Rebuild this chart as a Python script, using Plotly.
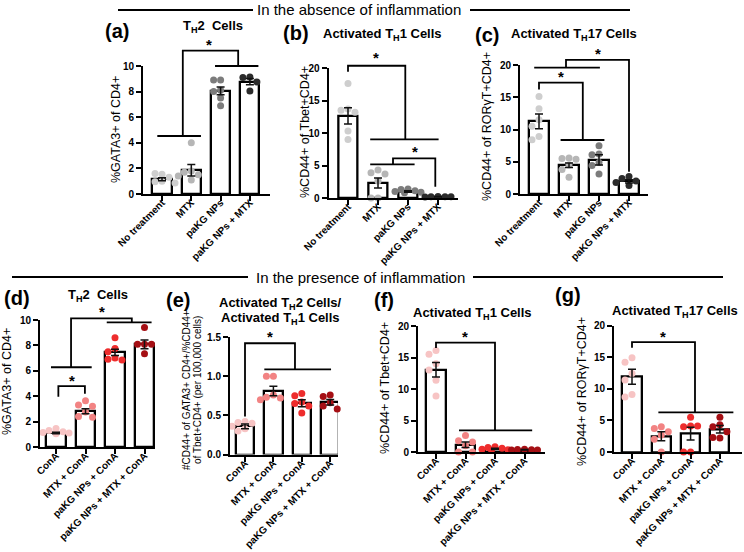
import plotly.graph_objects as go
import numpy as np

W, H = 744, 552
FONT = "Arial, Liberation Sans, sans-serif"

# ---------------- data ----------------
top_categories = ["No treatment", "MTX", "paKG NPs", "paKG NPs + MTX"]
bottom_categories = ["ConA", "MTX + ConA", "paKG NPs + ConA", "paKG NPs + MTX + ConA"]

top_colors = ["#cecece", "#b6b6b6", "#7c7c7c", "#2b2b2b"]
bottom_colors = ["#f7c4c4", "#f28383", "#ee2d2d", "#a50f14"]

# (a) TH2 cells, no inflammation
a_means = [1.15, 1.85, 8.05, 8.78]
a_sems = [0.12, 0.45, 0.30, 0.25]
a_points = [[1.55, 1.6, 1.3, 1.0, 0.95, 0.85],
            [4.0, 1.8, 1.7, 1.5, 1.4, 1.1],
            [8.9, 8.9, 8.1, 8.0, 7.5, 6.9],
            [9.15, 9.1, 8.75, 8.05]]
# (b) Activated TH1 cells, no inflammation
b_means = [12.65, 2.3, 1.0, 0.2]
b_sems = [1.25, 0.77, 0.10, 0.02]
b_points = [[17.6, 13.7, 13.5, 13.2, 10.3, 9.0],
            [4.3, 3.9, 3.7, 2.6, 0.0, 0.0],
            [1.4, 1.3, 1.1, 1.0, 0.9, 0.8],
            [0.25, 0.2, 0.2, 0.15, 0.2]]
# (c) Activated TH17 cells, no inflammation
c_means = [11.25, 4.45, 5.3, 1.95]
c_sems = [1.15, 0.35, 0.8, 0.25]
c_points = [[15.1, 13.2, 11.5, 10.5, 8.9, 8.4],
            [5.6, 5.5, 5.4, 4.5, 3.8, 2.6],
            [7.5, 6.2, 6.1, 4.9, 4.4, 3.1],
            [2.7, 2.4, 2.0, 1.8, 1.3]]
# (d) TH2 cells, inflammation
d_means = [1.1, 2.82, 7.45, 8.08]
d_sems = [0.06, 0.20, 0.25, 0.35]
d_points = [[1.45, 1.3, 1.2, 1.15, 1.1, 1.05],
            [3.65, 3.3, 3.2, 2.75, 2.4, 2.35],
            [8.6, 7.75, 7.5, 7.0, 6.9, 6.85],
            [9.4, 8.1, 8.1, 8.1, 7.35]]
# (e) Activated TH2 / Activated TH1 ratio, inflammation
e_means = [0.36, 0.81, 0.655, 0.667]
e_sems = [0.03, 0.06, 0.045, 0.035]
e_points = [[0.42, 0.41, 0.40, 0.36, 0.33, 0.30],
            [1.0, 1.0, 0.76, 0.73, 0.72, 0.70],
            [0.78, 0.75, 0.67, 0.65, 0.62, 0.53],
            [0.76, 0.74, 0.66, 0.62, 0.58]]
# (f) Activated TH1 cells, inflammation
f_means = [13.07, 1.15, 0.5, 0.35]
f_sems = [1.15, 0.45, 0.09, 0.03]
f_points = [[16.1, 15.5, 14.0, 13.0, 11.4, 8.9],
            [2.6, 1.8, 1.6, 1.0, 0.0, 0.0],
            [0.85, 0.7, 0.6, 0.45, 0.35, 0.3],
            [0.45, 0.4, 0.35, 0.3, 0.3]]
# (g) Activated TH17 cells, inflammation
g_means = [11.9, 2.49, 2.9, 3.6]
g_sems = [1.2, 0.7, 1.0, 0.6]
g_points = [[14.9, 14.2, 12.4, 11.4, 9.1, 8.7],
            [4.0, 3.7, 3.2, 2.7, 2.0, 0.0],
            [5.5, 4.1, 4.0, 4.1, 0.0, 0.0],
            [5.5, 4.3, 4.0, 3.2, 2.2, 2.3]]

# significance brackets (category units, value units)
a_brackets = [[(-0.16, 4.53), (1.33, 4.53)],
              [(1.81, 10.0), (3.29, 10.0)],
              [(0.71, 4.53), (0.71, 11.2), (2.6, 11.2), (2.6, 10.0)]]
a_stars = [(1.62, 11.9)]
b_brackets = [[(0, 19.43), (0, 20.35), (1.91, 20.35), (1.91, 9.03)],
              [(0.74, 9.03), (3.02, 9.03)],
              [(0.74, 5.18), (2.22, 5.18)],
              [(1.5, 5.18), (1.5, 6.1), (2.91, 6.1), (2.91, 1.74)]]
b_stars = [(0.94, 22.1), (2.22, 7.6)]
c_brackets = [[(-0.16, 19.58), (2.03, 19.58)],
              [(0.9, 19.58), (0.9, 20.78), (3.0, 20.78), (3.0, 3.46)],
              [(0, 16.2), (0, 17.26), (1.46, 17.26), (1.46, 8.37)],
              [(0.72, 8.37), (2.18, 8.37)]]
c_stars = [(1.96, 22.3), (0.73, 18.7)]
d_brackets = [[(1.72, 9.82), (3.24, 9.82)],
              [(-0.17, 6.28), (1.21, 6.28)],
              [(0.51, 6.28), (0.51, 10.13), (2.57, 10.13), (2.57, 9.82)],
              [(0.08, 3.96), (0.08, 4.8), (0.98, 4.8), (0.98, 4.2)]]
d_stars = [(1.55, 10.87), (0.55, 5.5)]
e_brackets = [[(0, 0.485), (0, 1.42), (1.76, 1.42), (1.76, 1.086)],
              [(0.68, 1.086), (3.03, 1.086)]]
e_stars = [(0.88, 1.54)]
f_brackets = [[(0, 16.5), (0, 17.37), (2.0, 17.37), (2.0, 3.44)],
              [(0.78, 3.44), (3.26, 3.44)]]
f_stars = [(0.98, 18.8)]
g_brackets = [[(0, 16.5), (0, 17.37), (2.15, 17.37), (2.15, 6.25)],
              [(0.9, 6.25), (3.46, 6.25)]]
g_stars = [(1.07, 18.8)]

# ---------------- layout geometry (pixels) ----------------
panels = [
    dict(cats=top_categories, means=a_means, sems=a_sems, pts=a_points, colors=top_colors,
         top=10, dtick=2, fmt="d", c0=162, s=29.3, xl=143, xr=270, y0=194, yt=66,
         br=a_brackets, st=a_stars),
    dict(cats=top_categories, means=b_means, sems=b_sems, pts=b_points, colors=top_colors,
         top=20, dtick=5, fmt="d", c0=348, s=30, xl=328.5, xr=458, y0=198, yt=68,
         br=b_brackets, st=b_stars),
    dict(cats=top_categories, means=c_means, sems=c_sems, pts=c_points, colors=top_colors,
         top=20, dtick=5, fmt="d", c0=539, s=30, xl=520, xr=648, y0=194, yt=65,
         br=c_brackets, st=c_stars),
    dict(cats=bottom_categories, means=d_means, sems=d_sems, pts=d_points, colors=bottom_colors,
         top=10, dtick=2, fmt="d", c0=56, s=29.5, xl=40, xr=155, y0=447, yt=320,
         br=d_brackets, st=d_stars),
    dict(cats=bottom_categories, means=e_means, sems=e_sems, pts=e_points, colors=bottom_colors,
         top=1.5, dtick=0.5, fmt=".1f", c0=245, s=28.4, xl=230, xr=338, y0=454.5, yt=337,
         br=e_brackets, st=e_stars),
    dict(cats=bottom_categories, means=f_means, sems=f_sems, pts=f_points, colors=bottom_colors,
         top=20, dtick=5, fmt="d", c0=436, s=29.5, xl=418, xr=545, y0=452, yt=326,
         br=f_brackets, st=f_stars),
    dict(cats=bottom_categories, means=g_means, sems=g_sems, pts=g_points, colors=bottom_colors,
         top=20, dtick=5, fmt="d", c0=632, s=29.3, xl=614, xr=742, y0=452, yt=325.5,
         br=g_brackets, st=g_stars),
]


def swarm(vals, ppu, diam=7.0):
    cands = [0, -7, 7, -3.5, 3.5, -10, 10, -13, 13]
    placed, offs = [], []
    for v in vals:
        y = v * ppu
        best, bestd = 0, -1
        for c in cands:
            d = min([np.hypot(c - px, y - py) for px, py in placed], default=1e9)
            if d >= diam:
                best = c
                break
            if d > bestd:
                bestd, best = d, c
        placed.append((best, y))
        offs.append(best)
    return offs


fig = go.Figure()
shapes = []
annotations = []


def P(px, py):
    return px / W, 1 - py / H


def ann(text, px, py, size, bold=False, angle=0, xanchor="center"):
    x, y = P(px, py)
    annotations.append(dict(text=text, x=x, y=y, xref="paper", yref="paper",
                            showarrow=False, textangle=angle, xanchor=xanchor, yanchor="middle",
                            font=dict(family=FONT, size=size, color="black",
                                      weight="bold" if bold else "normal")))


for i, p in enumerate(panels, start=1):
    xa, ya = f"x{i}", f"y{i}"
    ppu = (p["y0"] - p["yt"]) / p["top"]
    idx = list(range(len(p["cats"])))
    fig.add_trace(go.Bar(x=idx, y=p["means"], width=0.65, xaxis=xa, yaxis=ya,
                         marker=dict(color="white", line=dict(color="black", width=2.3)),
                         showlegend=False, hoverinfo="skip"))
    for k, vals in enumerate(p["pts"]):
        offs = swarm(vals, ppu)
        fig.add_trace(go.Scatter(x=[k + o / p["s"] for o in offs], y=vals, mode="markers",
                                 xaxis=xa, yaxis=ya, cliponaxis=False, showlegend=False,
                                 marker=dict(size=7, color=p["colors"][k], line=dict(width=0))))
    fig.add_trace(go.Scatter(x=idx, y=p["means"], mode="markers", xaxis=xa, yaxis=ya,
                             cliponaxis=False, showlegend=False,
                             marker=dict(size=1, color="rgba(0,0,0,0)"),
                             error_y=dict(type="data", array=p["sems"], color="#111",
                                          thickness=1.5, width=4)))
    axis_common = dict(showline=True, linewidth=2, linecolor="black", ticks="outside",
                       ticklen=5, tickwidth=2, tickcolor="black", showgrid=False,
                       zeroline=False, fixedrange=True, automargin=False,
                       tickfont=dict(family=FONT, size=10, color="black", weight="bold"))
    fig.layout[f"xaxis{i}"] = dict(
        domain=[p["xl"] / W, p["xr"] / W],
        range=[(p["xl"] - p["c0"]) / p["s"], (p["xr"] - p["c0"]) / p["s"]],
        tickvals=idx, ticktext=p["cats"], tickangle=-45, anchor=ya,
        ticklabelstandoff=-8, **axis_common)
    fig.layout[f"yaxis{i}"] = dict(
        domain=[1 - p["y0"] / H, 1 - p["yt"] / H], range=[0, p["top"]],
        tick0=0, dtick=p["dtick"], tickformat=p["fmt"], anchor=xa, **axis_common)

    def tp(x, y, p=p, ppu=ppu):
        return p["c0"] + x * p["s"], p["y0"] - y * ppu

    for br in p["br"]:
        pts = [tp(x, y) for x, y in br]
        path = "M " + " L ".join(f"{P(a, b)[0]:.5f},{P(a, b)[1]:.5f}" for a, b in pts)
        shapes.append(dict(type="path", path=path, xref="paper", yref="paper",
                           line=dict(color="black", width=1.8)))
    for x, y in p["st"]:
        px, py = tp(x, y)
        ann("*", px, py + 3, 15, bold=True)

# titles
ann("T<sub>H</sub>2  Cells", 213, 27, 13, bold=True)
ann("Activated T<sub>H</sub>1 Cells", 382, 35, 13, bold=True)
ann("Activated T<sub>H</sub>17 Cells", 574, 35, 13, bold=True)
ann("T<sub>H</sub>2  Cells", 98, 295, 13, bold=True)
ann("Activated T<sub>H</sub>2 Cells/", 280, 303, 13, bold=True)
ann("Activated T<sub>H</sub>1 Cells", 280, 318, 13, bold=True)
ann("Activated T<sub>H</sub>1 Cells", 472, 313, 13, bold=True)
ann("Activated T<sub>H</sub>17 Cells", 675, 311, 13, bold=True)

# panel letters
for lab, px, py in [("(a)", 117, 31), ("(b)", 296, 33), ("(c)", 487, 35), ("(d)", 17, 298),
                    ("(e)", 178, 300), ("(f)", 384, 300), ("(g)", 568, 295)]:
    ann(lab, px, py, 20, bold=True)

# y-axis titles
ann("%GATA3+ of CD4+", 116, 130, 12.5, angle=-90)
ann("%CD44+ of Tbet+CD4+", 305, 132, 12.5, angle=-90)
ann("%CD44+ of RORγT+CD4+", 487, 127, 12.5, angle=-90)
ann("%GATA3+ of CD4+", 7, 382, 12.5, angle=-90)
ann("#CD44+ of GATA3+ CD4+/%CD44+", 186, 390, 10, angle=-90)
ann("of Tbet+CD4+ (per 100,000 cells)", 197, 390, 10, angle=-90)
ann("%CD44+ of Tbet+CD4+", 385, 388, 12.5, angle=-90)
ann("%CD44+ of RORγT+CD4+", 582, 392, 12.5, angle=-90)

# section headers
ann("In the absence of inflammation", 359, 10, 15)
ann("In the presence of inflammation", 360, 277, 15)
for x0, x1, yy in [(118, 253, 10), (470, 630, 10), (12, 248, 277), (473, 723, 277)]:
    a0, b0 = P(x0, yy)
    a1, b1 = P(x1, yy)
    shapes.append(dict(type="line", x0=a0, x1=a1, y0=b0, y1=b1, xref="paper", yref="paper",
                       line=dict(color="black", width=2)))

fig.update_layout(template="none", width=W, height=H, margin=dict(l=0, r=0, t=0, b=0, pad=0),
                  paper_bgcolor="white", plot_bgcolor="white", showlegend=False,
                  shapes=shapes, annotations=annotations, bargap=0)
fig.write_html("out.html")
